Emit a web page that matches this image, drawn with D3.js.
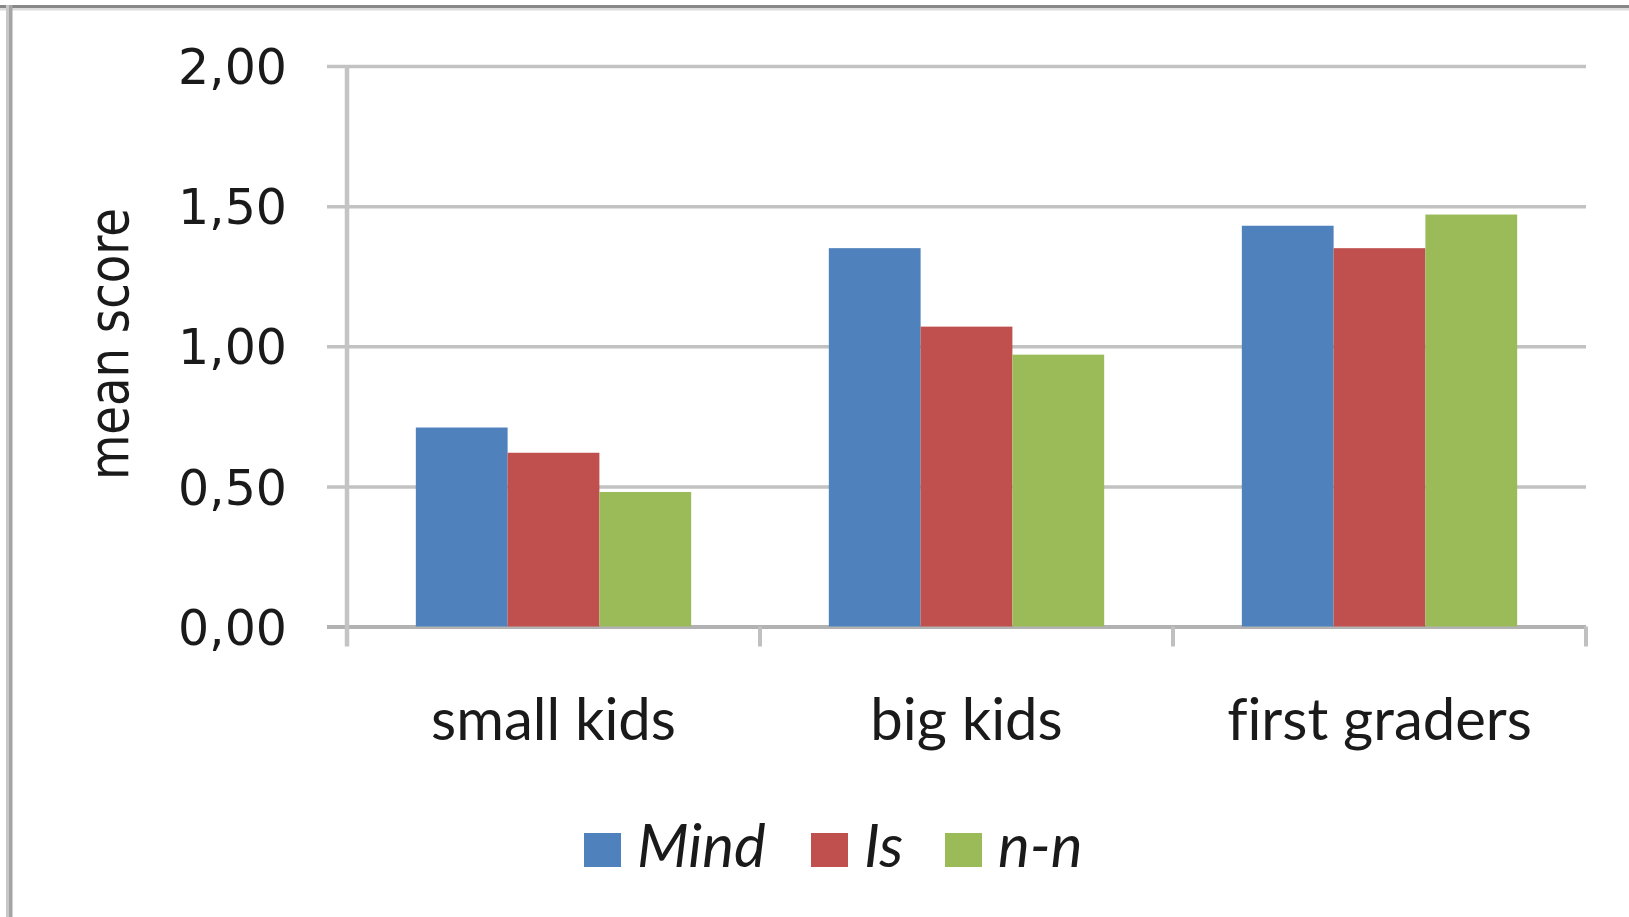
<!DOCTYPE html>
<html>
<head>
<meta charset="utf-8">
<script src="https://cdn.jsdelivr.net/npm/d3@7"></script>
<style>
  html, body { margin: 0; padding: 0; background: #fff; }
  svg { display: block; }
  text { font-variant-ligatures: none; font-feature-settings: "liga" 0; }
</style>
</head>
<body>
<svg id="chart" width="1629" height="917"></svg>
<script>
// Mean scores per age group
const categories = ["small kids", "big kids", "first graders"];
const seriesNames = ["Mind", "Is", "n-n"];
const mindValues = [0.71, 1.35, 1.43];
const isValues = [0.62, 1.07, 1.35];
const nnValues = [0.48, 0.97, 1.47];
const yTickValues = [0, 0.5, 1.0, 1.5, 2.0];
const seriesColors = ["#4f81bd", "#c0504d", "#9bbb59"];

const seriesValues = [mindValues, isValues, nnValues];
const rows = categories.map((c, i) => ({
  category: c,
  values: seriesNames.map((s, j) => ({ series: s, value: seriesValues[j][i] }))
}));

const svg = d3.select("#chart");
const W = 1629, H = 917;

const plot = { left: 347, right: 1586, top: 66, bottom: 626.5 };

const locale = d3.formatLocale({ decimal: ",", thousands: ".", grouping: [3], currency: ["", "€"] });
const fmt = locale.format(".2f");

const x = d3.scaleBand().domain(categories).range([plot.left, plot.right]).padding(0);
const bw = x.bandwidth();
// gap width 150%: each group is 3 bars plus 1.5 bar widths of gap
const xInner = d3.scaleBand().domain(seriesNames)
  .range([bw * 0.75 / 4.5, bw * 3.75 / 4.5]).padding(0);
const y = d3.scaleLinear().domain([0, 2]).range([plot.bottom, plot.top]);
const color = d3.scaleOrdinal().domain(seriesNames).range(seriesColors);

// outer frame (top and left edges)
svg.append("rect").attr("x", 0).attr("y", 5).attr("width", W).attr("height", 3).attr("fill", "#888");
svg.append("rect").attr("x", 0).attr("y", 8).attr("width", W).attr("height", 2.5).attr("fill", "#dcdcdc");
svg.append("rect").attr("x", 6).attr("y", 5).attr("width", 3).attr("height", H).attr("fill", "#c8c8c8");
svg.append("rect").attr("x", 9).attr("y", 5).attr("width", 3.5).attr("height", H).attr("fill", "#a4a4a4");

// horizontal gridlines with tick stubs to the left of the axis
const yAxis = d3.axisLeft(y).tickValues(yTickValues).tickFormat(fmt)
  .tickSize(-(plot.right - plot.left)).tickSizeOuter(0).tickPadding(0);
const gy = svg.append("g").attr("transform", `translate(${plot.left},0)`).call(yAxis);
gy.select(".domain").remove();
gy.selectAll(".tick line")
  .attr("x1", -20)
  .attr("stroke", d => d === 0 ? "#b2b2b2" : "#c2c2c2")
  .attr("stroke-width", d => d === 0 ? 4 : 3.5);
gy.selectAll(".tick text")
  .attr("x", -60)
  .attr("dy", "0.36em")
  .attr("fill", "#1a1a1a")
  .style("font-family", "'DejaVu Sans', Verdana, sans-serif")
  .style("font-size", "49px");

// vertical axis line
svg.append("line")
  .attr("x1", plot.left).attr("x2", plot.left)
  .attr("y1", plot.top).attr("y2", plot.bottom + 20)
  .attr("stroke", "#c4c4c4").attr("stroke-width", 4.5);

// category boundary ticks
const boundaries = categories.map(c => x(c)).concat([plot.right]).slice(1);
svg.append("g").selectAll("line").data(boundaries).join("line")
  .attr("x1", d => d).attr("x2", d => d)
  .attr("y1", plot.bottom).attr("y2", plot.bottom + 20)
  .attr("stroke", "#c0c0c0").attr("stroke-width", 4);

// bars
const groups = svg.append("g").selectAll("g").data(rows).join("g")
  .attr("transform", d => `translate(${x(d.category)},0)`);
groups.selectAll("rect").data(d => d.values).join("rect")
  .attr("x", d => xInner(d.series))
  .attr("width", xInner.bandwidth())
  .attr("y", d => y(d.value))
  .attr("height", d => y(0) - y(d.value))
  .attr("fill", d => color(d.series));

// category labels
svg.append("g").selectAll("text").data(categories).join("text")
  .attr("x", d => x(d) + bw / 2)
  .attr("y", 740)
  .attr("text-anchor", "middle")
  .attr("fill", "#1a1a1a")
  .style("font-family", "Lato, 'Open Sans', sans-serif")
  .style("font-size", "58px")
  .text(d => d);

// y-axis title
svg.append("text")
  .attr("transform", "translate(128,344) rotate(-90)")
  .attr("text-anchor", "middle")
  .attr("fill", "#1a1a1a")
  .attr("textLength", 272)
  .attr("lengthAdjust", "spacingAndGlyphs")
  .style("font-family", "'DejaVu Sans', Verdana, sans-serif")
  .style("font-size", "56px")
  .text("mean score");

// legend
const legendX = [584, 811, 945];
const legend = svg.append("g").selectAll("g").data(seriesNames).join("g")
  .attr("transform", (d, i) => `translate(${legendX[i]},0)`);
legend.append("rect")
  .attr("x", 0).attr("y", 833)
  .attr("width", 37).attr("height", 34)
  .attr("fill", d => color(d));
legend.append("text")
  .attr("x", 53).attr("y", 867)
  .attr("fill", "#1a1a1a")
  .style("font-family", "Lato, 'Open Sans', sans-serif")
  .style("font-style", "italic")
  .style("font-size", "60px")
  .text(d => d);
</script>
</body>
</html>
